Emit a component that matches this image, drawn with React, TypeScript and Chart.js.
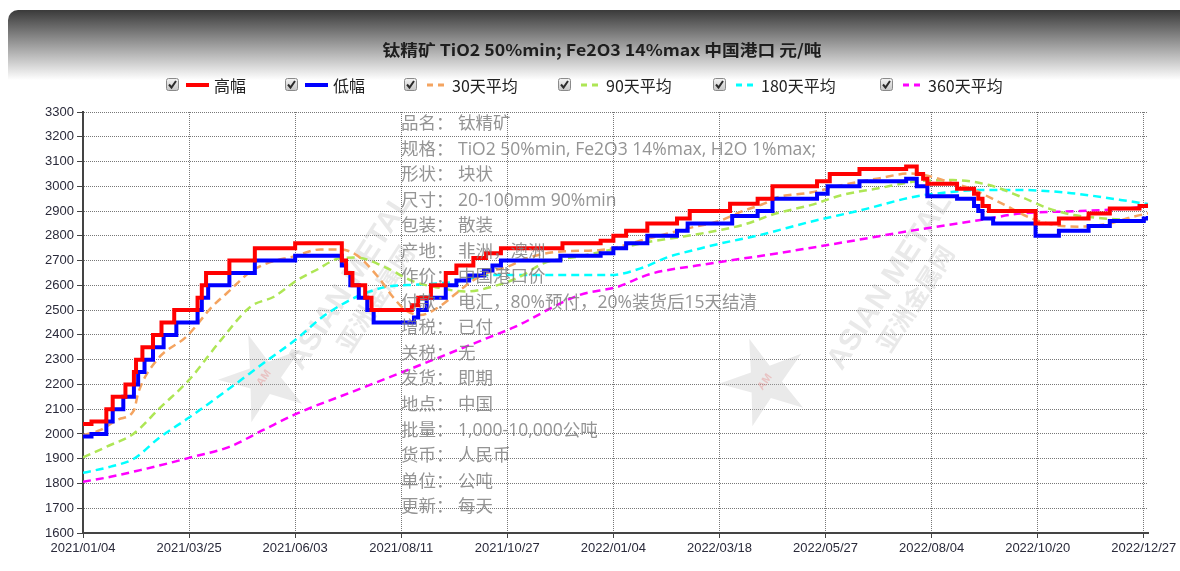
import { useEffect, useRef } from "react";
import { Chart, registerables } from "chart.js";

Chart.register(...registerables);

const W = 1180;
const H = 571;

// ---------- texts ----------
const chartTitle = "钛精矿 TiO2 50%min; Fe2O3 14%max 中国港口 元/吨";
const seriesNames = ["高幅", "低幅", "30天平均", "90天平均", "180天平均", "360天平均"];
const seriesColors = ["#ff0000", "#0000ff", "#f4a460", "#aee655", "#00ffff", "#ff00ff"];
const infoLines = [
  "品名： 钛精矿",
  "规格： TiO2 50%min, Fe2O3 14%max, H2O 1%max;",
  "形状： 块状",
  "尺寸： 20-100mm 90%min",
  "包装： 散装",
  "产地： 非洲，澳洲",
  "作价： 中国港口价",
  "付款： 电汇，80%预付，20%装货后15天结清",
  "增税： 已付",
  "关税： 无",
  "发货： 即期",
  "地点： 中国",
  "批量： 1,000-10,000公吨",
  "货币： 人民币",
  "单位： 公吨",
  "更新： 每天",
];

// ---------- axis ----------
const xTickLabels = [
  "2021/01/04", "2021/03/25", "2021/06/03", "2021/08/11", "2021/10/27", "2022/01/04",
  "2022/03/18", "2022/05/27", "2022/08/04", "2022/10/20", "2022/12/27",
];
const xTickStep = 50; // trading days between two date labels
const lastDay = 502;
const yMin = 1600;
const yMax = 3300;
const yStep = 100;

// ---------- series (trading-day index, price) ----------
const highDays = [0, 4, 11, 14, 20, 24, 25, 28, 33, 37, 43, 54, 56, 58, 69, 81, 100, 122, 124, 127, 133, 136, 155, 158, 164, 171, 176, 184, 190, 197, 226, 244, 250, 256, 266, 280, 286, 305, 318, 325, 346, 352, 366, 388, 393, 396, 398, 412, 420, 422, 424, 427, 449, 460, 474, 484, 498, 502];
const highValues = [2040, 2050, 2100, 2150, 2200, 2250, 2300, 2350, 2400, 2450, 2500, 2550, 2600, 2650, 2700, 2750, 2770, 2700, 2650, 2600, 2550, 2500, 2520, 2550, 2600, 2650, 2680, 2710, 2730, 2750, 2770, 2780, 2800, 2820, 2850, 2870, 2900, 2930, 2950, 3000, 3020, 3050, 3070, 3080, 3050, 3030, 3010, 2990, 2970, 2950, 2920, 2900, 2850, 2870, 2890, 2910, 2920, 2930];

const lowDays = [0, 4, 11, 14, 19, 24, 26, 29, 33, 38, 44, 54, 56, 59, 69, 81, 100, 122, 124, 126, 130, 134, 137, 156, 158, 162, 171, 176, 182, 189, 193, 197, 225, 244, 250, 256, 266, 280, 285, 306, 318, 325, 346, 351, 366, 388, 393, 398, 412, 420, 422, 424, 429, 449, 460, 474, 484, 500, 502];
const lowValues = [1990, 2000, 2050, 2100, 2150, 2200, 2250, 2300, 2350, 2400, 2450, 2500, 2550, 2600, 2650, 2700, 2720, 2680, 2650, 2600, 2550, 2500, 2450, 2470, 2500, 2550, 2600, 2620, 2640, 2660, 2680, 2700, 2720, 2730, 2750, 2770, 2800, 2820, 2850, 2880, 2900, 2950, 2970, 3000, 3020, 3030, 3000, 2960, 2950, 2920, 2900, 2870, 2850, 2800, 2820, 2840, 2860, 2870, 2880];

const ma30Days = [0, 8, 17, 24, 26, 35, 49, 61, 68, 79, 87, 99, 112, 121, 129, 139, 146, 152, 159, 168, 176, 184, 192, 200, 209, 224, 244, 267, 285, 300, 311, 321, 327, 343, 358, 375, 390, 400, 410, 418, 433, 447, 458, 470, 483, 495, 502];
const ma30Values = [1995, 2015, 2060, 2095, 2165, 2300, 2395, 2515, 2570, 2655, 2690, 2716, 2745, 2745, 2722, 2635, 2554, 2500, 2480, 2514, 2568, 2621, 2655, 2675, 2709, 2736, 2743, 2790, 2830, 2860, 2900, 2930, 2955, 2975, 3005, 3032, 3052, 3039, 3012, 2992, 2931, 2871, 2844, 2837, 2848, 2877, 2891];

const ma90Days = [0, 11, 24, 36, 50, 65, 79, 90, 101, 110, 121, 129, 142, 156, 168, 180, 197, 206, 217, 233, 252, 267, 283, 300, 311, 327, 343, 358, 375, 392, 410, 427, 442, 455, 467, 480, 492, 502];
const ma90Values = [1905, 1948, 2002, 2103, 2218, 2379, 2514, 2554, 2621, 2662, 2709, 2712, 2675, 2615, 2590, 2575, 2605, 2635, 2689, 2716, 2749, 2776, 2797, 2823, 2844, 2891, 2924, 2965, 2992, 3019, 3025, 3005, 2958, 2911, 2884, 2871, 2864, 2861];

const ma180Days = [0, 13, 24, 36, 50, 68, 85, 101, 113, 129, 143, 158, 176, 192, 203, 249, 264, 275, 291, 300, 319, 343, 367, 392, 408, 423, 442, 466, 489, 502];
const ma180Values = [1843, 1868, 1900, 1985, 2066, 2177, 2285, 2386, 2473, 2554, 2594, 2603, 2615, 2642, 2642, 2642, 2672, 2712, 2749, 2768, 2803, 2857, 2904, 2958, 2976, 2985, 2985, 2972, 2945, 2928];

const ma360Days = [0, 13, 27, 40, 52, 69, 85, 101, 129, 160, 192, 203, 234, 252, 267, 291, 327, 360, 392, 423, 442, 470, 489, 502];
const ma360Values = [1807, 1827, 1854, 1881, 1908, 1948, 2016, 2083, 2177, 2282, 2392, 2430, 2561, 2594, 2645, 2682, 2729, 2776, 2823, 2864, 2890, 2900, 2908, 2919];

const toPoints = (days: number[], values: number[]) => days.map((d, i) => ({ x: d, y: values[i] }));

// ---------- layout constants (page pixels) ----------
const legendBoxX = [166, 285, 404, 558, 713, 880];
const legendY = 85;
const titleCenter = { x: 602, y: 50, width: 439 };

const CJK = '"Noto Sans CJK SC"';
const tickFont = { family: "Arial, 'Liberation Sans'", size: 13 };

function drawCheckbox(ctx: CanvasRenderingContext2D, x: number, y: number) {
  const s = 13;
  ctx.save();
  const g = ctx.createLinearGradient(0, y, 0, y + s);
  g.addColorStop(0, "#f6f6f6");
  g.addColorStop(1, "#c4c4c4");
  ctx.fillStyle = g;
  ctx.beginPath();
  ctx.roundRect(x + 0.5, y + 0.5, s - 1, s - 1, 2);
  ctx.fill();
  ctx.strokeStyle = "#8a8a8a";
  ctx.lineWidth = 1;
  ctx.stroke();
  ctx.strokeStyle = "#2b2b2b";
  ctx.lineWidth = 2;
  ctx.beginPath();
  ctx.moveTo(x + 3, y + 6.5);
  ctx.lineTo(x + 5.5, y + 9.5);
  ctx.lineTo(x + 10, y + 3);
  ctx.stroke();
  ctx.restore();
}

function drawLogo(ctx: CanvasRenderingContext2D, sx: number, sy: number, tx: number, ty: number) {
  ctx.save();
  ctx.translate(sx, sy);
  ctx.rotate(-0.35);
  ctx.beginPath();
  for (let i = 0; i < 10; i++) {
    const r = i % 2 === 0 ? 46 : 17;
    const a = -Math.PI / 2 + (i * Math.PI) / 5;
    if (i === 0) ctx.moveTo(r * Math.cos(a), r * Math.sin(a));
    else ctx.lineTo(r * Math.cos(a), r * Math.sin(a));
  }
  ctx.closePath();
  ctx.fillStyle = "rgba(190,190,190,0.32)";
  ctx.fill();
  ctx.fillStyle = "rgba(230,120,120,0.35)";
  ctx.font = "bold 11px Arial";
  ctx.textAlign = "center";
  ctx.textBaseline = "middle";
  ctx.rotate(-0.6);
  ctx.fillText("AM", 0, 0);
  ctx.restore();

  ctx.save();
  ctx.translate(tx, ty);
  ctx.rotate((-57 * Math.PI) / 180);
  ctx.textAlign = "center";
  ctx.textBaseline = "middle";
  ctx.fillStyle = "rgba(175,175,175,0.28)";
  ctx.font = "bold 30px Arial";
  ctx.fillText("ASIAN METAL", 0, 0);
  ctx.font = `bold 24px ${CJK}`;
  ctx.fillText("亚洲金属网", 0, 30);
  ctx.restore();
}

const decorPlugin = {
  id: "decor",
  beforeDraw(chart: any) {
    const ctx: CanvasRenderingContext2D = chart.ctx;
    ctx.save();
    // header banner
    const bx = 8, by = 10, bw = W - 8, bh = 70, r = 10;
    const g = ctx.createLinearGradient(0, by, 0, by + bh);
    g.addColorStop(0, "#3a3a3a");
    g.addColorStop(1, "#ffffff");
    ctx.fillStyle = g;
    ctx.beginPath();
    ctx.moveTo(bx + r, by);
    ctx.lineTo(bx + bw, by);
    ctx.lineTo(bx + bw, by + bh);
    ctx.lineTo(bx, by + bh);
    ctx.lineTo(bx, by + r);
    ctx.arcTo(bx, by, bx + r, by, r);
    ctx.closePath();
    ctx.fill();

    // title (fitted to the reference width)
    ctx.fillStyle = "#1e1e1e";
    ctx.font = `bold 16px ${CJK}`;
    ctx.textAlign = "center";
    ctx.textBaseline = "middle";
    const tw = ctx.measureText(chartTitle).width;
    ctx.save();
    ctx.translate(titleCenter.x, titleCenter.y);
    ctx.scale(titleCenter.width / tw, 1);
    ctx.fillText(chartTitle, 0, 0);
    ctx.restore();

    // legend
    ctx.font = `16px ${CJK}`;
    ctx.textAlign = "left";
    ctx.textBaseline = "middle";
    seriesNames.forEach((name, i) => {
      const x0 = legendBoxX[i];
      drawCheckbox(ctx, x0, legendY - 7);
      const lx = x0 + 20;
      ctx.save();
      ctx.strokeStyle = seriesColors[i];
      if (i < 2) {
        ctx.lineWidth = 4;
        ctx.beginPath();
        ctx.moveTo(lx, legendY);
        ctx.lineTo(lx + 23, legendY);
        ctx.stroke();
      } else {
        ctx.lineWidth = 3;
        ctx.setLineDash([6, 5]);
        ctx.beginPath();
        ctx.moveTo(lx + 3, legendY);
        ctx.lineTo(lx + 20, legendY);
        ctx.stroke();
      }
      ctx.restore();
      ctx.fillStyle = "#222";
      ctx.fillText(name, x0 + 48, legendY + 1);
    });
    ctx.restore();
  },
  beforeDatasetsDraw(chart: any) {
    const ctx: CanvasRenderingContext2D = chart.ctx;
    drawLogo(ctx, 264, 378, 350, 282);
    drawLogo(ctx, 765, 382, 890, 282);
  },
  afterDatasetsDraw(chart: any) {
    const ctx: CanvasRenderingContext2D = chart.ctx;
    ctx.save();
    ctx.font = `17.5px "Open Sans", ${CJK}`;
    ctx.fillStyle = "rgba(125,125,125,0.82)";
    ctx.textAlign = "left";
    ctx.textBaseline = "middle";
    infoLines.forEach((line, i) => ctx.fillText(line, 401, 124 + i * 25.55));
    ctx.restore();
  },
};

export default function App() {
  const ref = useRef<HTMLCanvasElement>(null);
  useEffect(() => {
    const canvas = ref.current;
    if (!canvas) return;
    const mk = (i: number, days: number[], values: number[], extra: any) => ({
      label: seriesNames[i],
      data: toPoints(days, values),
      borderColor: seriesColors[i],
      backgroundColor: seriesColors[i],
      pointRadius: 0,
      fill: false,
      order: i,
      ...extra,
    });
    const solid = { borderWidth: 4, stepped: "before" };
    const dashed = { borderWidth: 2.5, borderDash: [8, 5], tension: 0.3, cubicInterpolationMode: "monotone" };
    const chart = new Chart(canvas, {
      type: "line",
      data: {
        datasets: [
          mk(0, highDays, highValues, solid),
          mk(1, lowDays, lowValues, solid),
          mk(2, ma30Days, ma30Values, dashed),
          mk(3, ma90Days, ma90Values, dashed),
          mk(4, ma180Days, ma180Values, dashed),
          mk(5, ma360Days, ma360Values, dashed),
        ],
      },
      options: {
        animation: false,
        responsive: false,
        maintainAspectRatio: false,
        layout: { padding: { top: 112, right: 32, left: 0, bottom: 0 } },
        plugins: {
          legend: { display: false },
          title: { display: false },
          tooltip: { enabled: false },
        },
        scales: {
          x: {
            type: "linear",
            min: 0,
            max: lastDay,
            afterBuildTicks: (s: any) => {
              s.ticks = xTickLabels.map((_, i) => ({ value: i * xTickStep }));
            },
            afterFit: (s: any) => {
              s.height = H - 533;
            },
            ticks: {
              autoSkip: false,
              maxRotation: 0,
              padding: 3,
              color: "#2a2a3a",
              font: tickFont,
              callback: (v: any) => xTickLabels[Math.round(Number(v) / xTickStep)] ?? "",
            },
            grid: { color: "#777", tickColor: "#444", tickLength: 5, lineWidth: 1 },
            border: { display: true, color: "#444", width: 2, dash: [1, 1] },
          },
          y: {
            min: yMin,
            max: yMax,
            afterFit: (s: any) => {
              s.width = 83;
            },
            ticks: {
              stepSize: yStep,
              padding: 3,
              color: "#2a2a3a",
              font: tickFont,
              callback: (v: any) => String(v),
            },
            grid: { color: "#777", tickColor: "#444", tickLength: 6, lineWidth: 1 },
            border: { display: true, color: "#444", width: 2, dash: [1, 1] },
          },
        },
      },
      plugins: [decorPlugin],
    } as any);
    return () => chart.destroy();
  }, []);
  return (
    <canvas
      ref={ref}
      width={W}
      height={H}
      style={{ position: "absolute", left: 0, top: 0, width: W, height: H }}
    />
  );
}
